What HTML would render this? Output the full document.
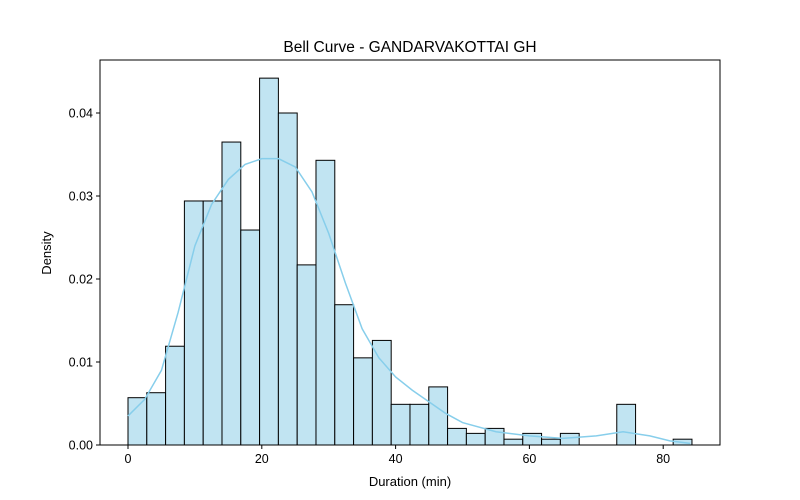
<!DOCTYPE html>
<html><head><meta charset="utf-8"><style>body{margin:0;background:#fff}svg{display:block;font-family:"Liberation Sans",sans-serif}</style></head>
<body>
<svg id="c" width="800" height="500"></svg>
<script>
const binStart=0, binWidth=2.81;
const densities=[0.0057,0.0063,0.0119,0.0294,0.0294,0.0365,0.0259,0.0442,0.0400,0.0217,0.0343,0.0169,0.0105,0.0126,0.0049,0.0049,0.0070,0.0020,0.0014,0.0020,0.0007,0.0014,0.0007,0.0014,0,0,0.0049,0,0,0.0007];
const kdeX=[0,2.5,5,7.5,10,12.5,15,17.5,20,22.5,25,27.5,30,32.5,35,37.5,40,42.5,45,47.5,50,55,60,65,70,74,78,81,84];
const kdeY=[0.0035,0.0055,0.009,0.016,0.024,0.029,0.032,0.0338,0.0345,0.0345,0.0335,0.0305,0.0255,0.0195,0.014,0.0105,0.0082,0.0066,0.0052,0.0038,0.0027,0.0016,0.0011,0.0008,0.0011,0.0016,0.0011,0.0005,0.0002];
const xTicks=[0,20,40,60,80], yTicks=[0,0.01,0.02,0.03,0.04];
const NS="http://www.w3.org/2000/svg", svg=document.getElementById('c');
const L=100,R=720,T=60,B=445;
const xs=v=>128+v*6.69, ys=v=>445-v*8300;
function mk(t,a,p){const e=document.createElementNS(NS,t);for(const k in a)e.setAttribute(k,a[k]);(p||svg).appendChild(e);return e;}
const bars=mk('g',{});


densities.forEach((d,i)=>{if(!d)return;const x0=xs(binStart+i*binWidth),x1=xs(binStart+(i+1)*binWidth);
const r=mk('rect',{x:x0,y:ys(d),width:x1-x0,height:ys(0)-ys(d),fill:'#c1e4f2',stroke:'#000','stroke-width':1},bars);

});
const kde=mk('polyline',{points:kdeX.map((x,i)=>xs(x)+','+ys(kdeY[i])).join(' '),fill:'none',stroke:'#87ceeb','stroke-width':1.5});


const fr=mk('rect',{x:L,y:T,width:R-L,height:B-T,fill:'none',stroke:'#000','stroke-width':1});


xTicks.forEach(v=>{const x=xs(v);mk('line',{x1:x,x2:x,y1:B,y2:B+4,stroke:'#000'});
const t=mk('text',{x:x,y:B+18,'text-anchor':'middle','font-size':12.5});t.textContent=v;

});
yTicks.forEach(v=>{const y=ys(v);mk('line',{x1:L-4,x2:L,y1:y,y2:y,stroke:'#000'});
const t=mk('text',{x:L-7,y:y+4.5,'text-anchor':'end','font-size':12.5});t.textContent=v.toFixed(2);

});
let t=mk('text',{x:410,y:52,'text-anchor':'middle','font-size':15.5});t.textContent='Bell Curve - GANDARVAKOTTAI GH';


t=mk('text',{x:410,y:486,'text-anchor':'middle','font-size':13});t.textContent='Duration (min)';


t=mk('text',{x:51,y:253,'text-anchor':'middle','font-size':13,transform:'rotate(-90 51 253)'});t.textContent='Density';


</script>
</body></html>
